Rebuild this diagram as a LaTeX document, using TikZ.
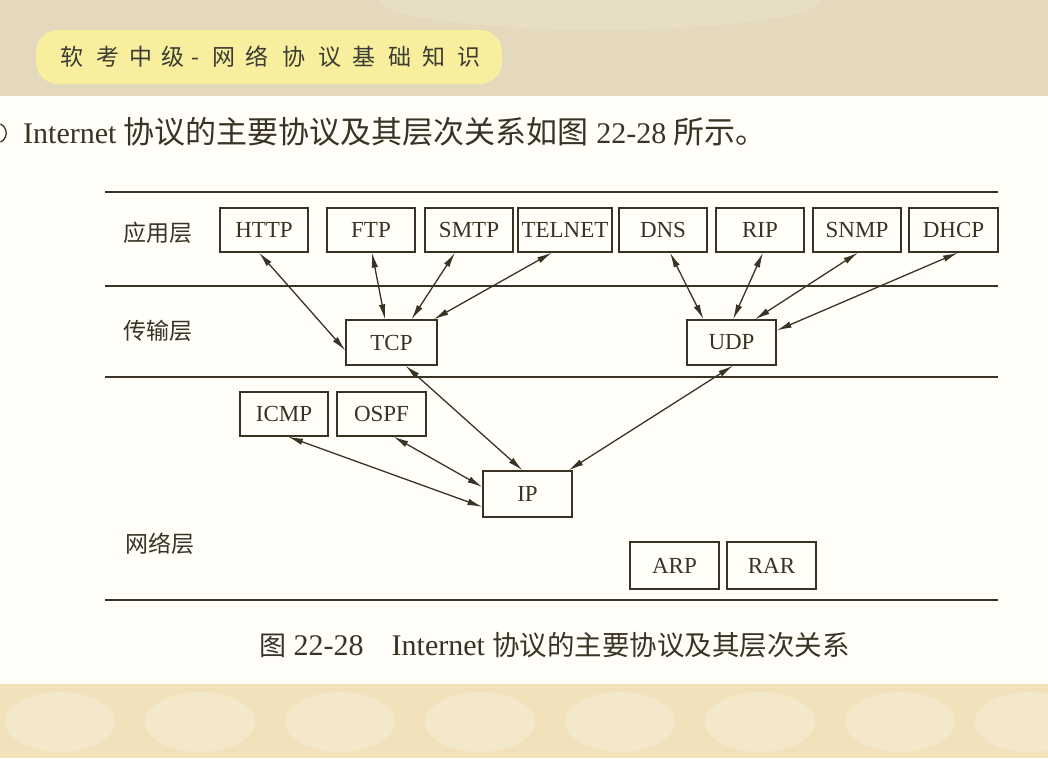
\documentclass[tikz,border=0pt]{standalone}
\usepackage{fontspec}
\setmainfont{Liberation Serif}
\newfontfamily\cjk{Noto Sans CJK SC}
\usetikzlibrary{arrows.meta}
\definecolor{ink}{HTML}{3A3324}
\definecolor{pen}{HTML}{3C3C34}
\definecolor{bandtop}{HTML}{E4D9BC}
\definecolor{bandbot}{HTML}{F1E2BC}
\definecolor{paper}{HTML}{FFFEF8}
\definecolor{hilite}{HTML}{F7EF9E}
\begin{document}
\begin{tikzpicture}[x=1pt,y=-1pt,
  box/.style={draw=ink,line width=1.3pt,minimum width=88pt,minimum height=44pt,inner sep=0pt,
              font=\fontsize{23}{26}\selectfont,text=ink},
  tip/.tip={Latex[length=15pt,width=6.5pt]},
  link/.style={draw=ink,line width=1.3pt,tip-tip},
  layerline/.style={draw=ink,line width=1.6pt},
  lab/.style={font=\cjk\fontsize{23}{26}\selectfont,text=ink,inner sep=0pt},
  hand/.style={font=\cjk\fontsize{23}{26}\selectfont,text=pen,inner sep=0pt,anchor=base}]
\useasboundingbox (0,0) rectangle (1048,758);
% background: photo bands and page
\fill[bandtop] (0,0) rectangle (1048,100);
\fill[bandbot] (0,678) rectangle (1048,758);
\fill[paper] (0,96) rectangle (1048,684);
\fill[bandtop!70!white, opacity=0.5] (600,0) ellipse[x radius=220pt,y radius=30pt];
\foreach \cx in {60,200,340,480,620,760,900,1030}{
  \fill[white,opacity=0.22] (\cx,722) ellipse[x radius=55pt,y radius=30pt];
}
% highlight and handwritten title
\fill[hilite, rounded corners=22pt] (36,30) rectangle (502,84);
\foreach \ch/\cx [count=\i] in {软/72,考/108,中/141,级/173,-/195,网/224,络/257,协/294,议/330,基/364,础/400,知/434,识/469}{
  \node[hand] (t\i) at (\cx,65) {\ch};
}
% circled-number fragment at left edge
\draw[ink,line width=1.3pt] (0.5,124) arc[start angle=-65,end angle=65,radius=10];
% intro sentence
\node[anchor=base west,inner sep=0pt,text=ink,font=\fontsize{30}{34}\selectfont] (intro) at (23,143)
  {Internet {\cjk\fontsize{31}{34}\selectfont 协议的主要协议及其层次关系如图} 22-28 {\cjk\fontsize{31}{34}\selectfont 所示。}};
% layer rules
\draw[layerline] (105,192) -- (998,192);
\draw[layerline] (105,286) -- (998,286);
\draw[layerline] (105,377) -- (998,377);
\draw[layerline] (105,600) -- (998,600);
% layer labels
\node[lab] (lapp) at (158,233) {应用层};
\node[lab] (ltra) at (158,331) {传输层};
\node[lab] (lnet) at (160,544) {网络层};
% application layer
\node[box] (HTTP) at (264,230) {HTTP};
\node[box] (FTP) at (371,230) {FTP};
\node[box] (SMTP) at (469,230) {SMTP};
\node[box,minimum width=94pt] (TELNET) at (565,230) {TELNET};
\node[box] (DNS) at (663,230) {DNS};
\node[box] (RIP) at (760,230) {RIP};
\node[box] (SNMP) at (857,230) {SNMP};
\node[box,minimum width=89pt] (DHCP) at (953.5,230) {DHCP};
% transport layer
\node[box,minimum width=91pt,minimum height=45pt] (TCP) at (391.5,342.5) {TCP};
\node[box,minimum width=89pt,minimum height=45pt] (UDP) at (731.5,342.5) {UDP};
% network layer
\node[box] (ICMP) at (284,414) {ICMP};
\node[box,minimum width=89pt] (OSPF) at (381.5,414) {OSPF};
\node[box,minimum width=89pt,minimum height=46pt] (IP) at (527.5,494) {IP};
\node[box,minimum width=89pt,minimum height=47pt] (ARP) at (674.5,565.5) {ARP};
\node[box,minimum width=89pt,minimum height=47pt] (RAR) at (771.5,565.5) {RAR};
% connectors
\draw[link] ([xshift=-5pt]HTTP.south) -- ([yshift=-8pt]TCP.west);
\draw[link] ([xshift=1pt]FTP.south) -- ([xshift=-6.5pt]TCP.north);
\draw[link] ([xshift=-14pt]SMTP.south) -- ([xshift=20pt]TCP.north);
\draw[link] ([xshift=-13pt]TELNET.south) -- ([xshift=-4pt]TCP.north east);
\draw[link] ([xshift=7pt]DNS.south) -- ([xshift=-28pt]UDP.north);
\draw[link] ([xshift=3pt]RIP.south) -- ([xshift=1.5pt]UDP.north);
\draw[link] ([xshift=1pt]SNMP.south) -- ([xshift=23.5pt]UDP.north);
\draw[link] ([xshift=4.5pt]DHCP.south) -- ([yshift=12pt]UDP.east);
\draw[link] ([xshift=14pt]TCP.south) -- ([xshift=-5pt]IP.north);
\draw[link] ([xshift=1.5pt]UDP.south) -- ([xshift=41pt]IP.north);
\draw[link] ([xshift=12pt]OSPF.south) -- ([yshift=7pt]IP.west);
\draw[link] ([xshift=4pt]ICMP.south) -- ([yshift=-13pt]IP.west);
% caption
\node[anchor=base west,inner sep=0pt,text=ink,font=\fontsize{30}{34}\selectfont] (caption) at (259,655)
  {{\cjk\fontsize{27}{30}\selectfont 图} 22-28\hspace{28pt}Internet {\cjk\fontsize{27.5}{30}\selectfont 协议的主要协议及其层次关系}};
\end{tikzpicture}
\end{document}
